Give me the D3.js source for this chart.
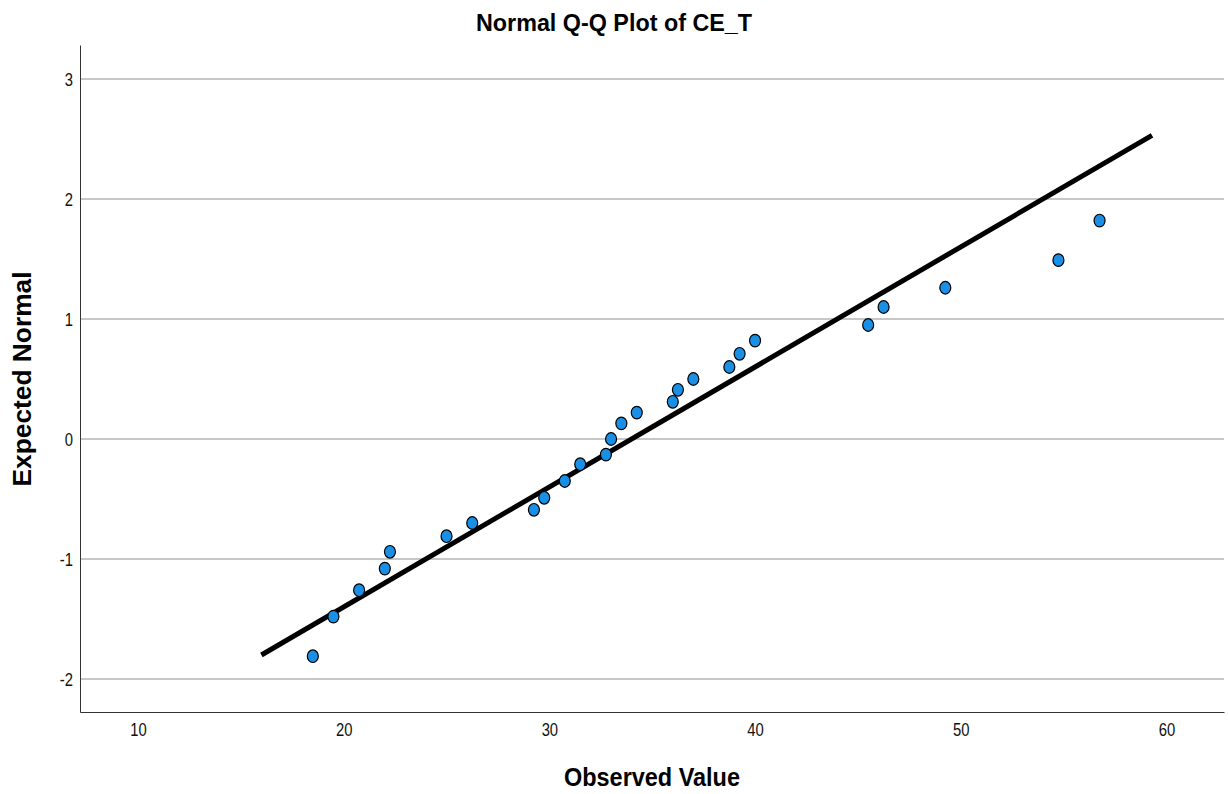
<!DOCTYPE html>
<html>
<head>
<meta charset="utf-8">
<script src="https://cdn.jsdelivr.net/npm/d3@7"></script>
<style>
  body { margin: 0; background: #fff; }
  text { font-family: "Liberation Sans", Arial, sans-serif; }
</style>
</head>
<body>
<svg id="vis-svg"></svg>
<script>
(() => {
  const width = 1228;
  const height = 794;
  const margin = { top: 45, right: 4, bottom: 82, left: 80 };

  const observed = [18.5, 19.5, 20.75, 22.0, 22.25, 25.0, 26.25, 29.25, 29.75, 30.75, 31.5, 32.75, 33.0, 33.5, 34.25, 36.0, 36.25, 37.0, 38.75, 39.25, 40.0, 45.5, 46.25, 49.25, 54.75, 56.75];
  const expected = [-1.81, -1.48, -1.26, -1.08, -0.94, -0.81, -0.70, -0.59, -0.49, -0.35, -0.21, -0.13, 0.0, 0.13, 0.22, 0.31, 0.41, 0.50, 0.60, 0.71, 0.82, 0.95, 1.10, 1.26, 1.49, 1.82];
  // Reference line endpoints (x values), line: z = (x - mean) / sd
  const lineX = [16.0, 59.3];
  const lineMean = 34.0;
  const lineSd = 10.0;

  const xTicks = [10, 20, 30, 40, 50, 60];
  const yTicks = [-2, -1, 0, 1, 2, 3];

  const squeeze = 0.78; // narrow look for tick labels

  const svg = d3.select("#vis-svg")
    .attr("width", width)
    .attr("height", height);

  const x = d3.scaleLinear()
    .domain([7.18, 62.8])
    .range([margin.left, width - margin.right]);

  const y = d3.scaleLinear()
    .domain([-2.275, 3.283])
    .range([height - margin.bottom, margin.top]);

  // Gridlines
  svg.append("g")
    .selectAll("line")
    .data(yTicks)
    .enter()
    .append("line")
    .attr("x1", margin.left)
    .attr("x2", width - margin.right)
    .attr("y1", d => y(d))
    .attr("y2", d => y(d))
    .style("stroke", "#b4b4b4")
    .style("stroke-width", 1.5);

  // Axes (no tick marks, condensed labels)
  const xAxis = svg.append("g")
    .attr("transform", `translate(0,${height - margin.bottom})`)
    .call(d3.axisBottom(x).tickValues(xTicks).tickFormat(d => String(d)).tickSize(0).tickPadding(11));
  xAxis.select(".domain").style("stroke", "#333");
  xAxis.selectAll(".tick text")
    .style("font-size", "19px")
    .style("fill", "#111")
    .attr("transform", `scale(${squeeze},1)`);

  const yAxis = svg.append("g")
    .attr("transform", `translate(${margin.left},0)`)
    .call(d3.axisLeft(y).tickValues(yTicks).tickFormat(d => String(d)).tickSize(0).tickPadding(7));
  yAxis.select(".domain").style("stroke", "#333");
  yAxis.selectAll(".tick text")
    .style("font-size", "19px")
    .style("fill", "#111")
    .attr("x", -7 / squeeze)
    .attr("transform", `scale(${squeeze},1)`);

  // Reference line
  svg.append("line")
    .attr("x1", x(lineX[0]))
    .attr("y1", y((lineX[0] - lineMean) / lineSd))
    .attr("x2", x(lineX[1]))
    .attr("y2", y((lineX[1] - lineMean) / lineSd))
    .style("stroke", "#000")
    .style("stroke-width", 5);

  // Points
  svg.append("g")
    .selectAll("ellipse")
    .data(observed.map((v, i) => [v, expected[i]]))
    .enter()
    .append("ellipse")
    .attr("cx", d => x(d[0]))
    .attr("cy", d => y(d[1]))
    .attr("rx", 5.5)
    .attr("ry", 6.3)
    .style("fill", "#1a8fe6")
    .style("stroke", "#000")
    .style("stroke-width", 1.2);

  // Title and axis labels
  svg.append("text")
    .attr("x", 614)
    .attr("y", 31)
    .attr("text-anchor", "middle")
    .attr("textLength", 276)
    .attr("lengthAdjust", "spacingAndGlyphs")
    .style("font-size", "24px")
    .style("font-weight", "bold")
    .text("Normal Q-Q Plot of CE_T");

  svg.append("text")
    .attr("x", 652)
    .attr("y", 786)
    .attr("text-anchor", "middle")
    .attr("textLength", 176)
    .attr("lengthAdjust", "spacingAndGlyphs")
    .style("font-size", "25px")
    .style("font-weight", "bold")
    .text("Observed Value");

  svg.append("text")
    .attr("transform", "translate(31,379) rotate(-90)")
    .attr("text-anchor", "middle")
    .attr("textLength", 215)
    .attr("lengthAdjust", "spacingAndGlyphs")
    .style("font-size", "25px")
    .style("font-weight", "bold")
    .text("Expected Normal");
})();
</script>
</body>
</html>
